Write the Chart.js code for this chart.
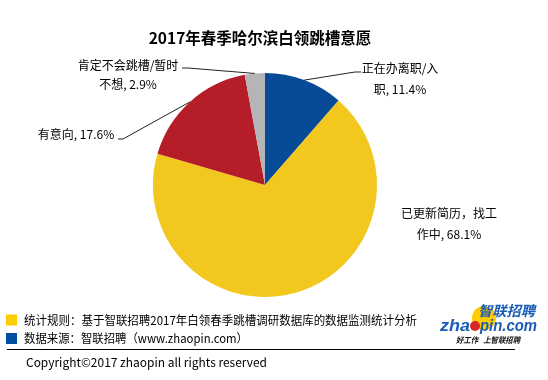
<!DOCTYPE html>
<html>
<head>
<meta charset="utf-8">
<script src="https://cdn.jsdelivr.net/npm/chart.js@4/dist/chart.umd.min.js"></script>
<style>
html,body{margin:0;padding:0;background:#fff;}
#wrap{width:548px;height:380px;position:relative;}
</style>
</head>
<body>
<div id="wrap"><canvas id="c" width="548" height="380"></canvas></div>
<script>
// ---- data ----
const chartTitle = '2017年春季哈尔滨白领跳槽意愿';
const categories = ['正在办离职/入职', '已更新简历，找工作中', '有意向', '肯定不会跳槽/暂时不想'];
const values = [11.4, 68.1, 17.6, 2.9];
const labelBreaks = [7, 8, 0, 9];
const sliceColors = ['#074A95', '#F2C81F', '#B51E28', '#B5B5B7'];
const legendTexts = ['统计规则：基于智联招聘2017年白领春季跳槽调研数据库的数据监测统计分析', '数据来源：智联招聘（www.zhaopin.com）'];
const legendColors = ['#FFCC00', '#004FA0'];
const copyrightText = 'Copyright©2017 zhaopin all rights reserved';

// ---- layout for labels (positions only) ----
const CJK = '"Microsoft YaHei","Noto Sans CJK SC","Noto Sans",sans-serif';
const labelLayout = [
  {cx: 400, ys: [68, 89], leader: [[361, 72], [355, 72]]},
  {cx: 449, ys: [213, 234], leader: null},
  {cx: 76, ys: [134], leader: [[118, 139], [123, 139]]},
  {cx: 128, ys: [65, 84], leader: [[182, 68], [188, 68]]}
];

function labelLines(i) {
  const full = categories[i] + ', ' + values[i] + '%';
  const b = labelBreaks[i];
  if (!b) return [full];
  return [full.slice(0, b), full.slice(b)];
}

function fitText(ctx, text, x, y, width) {
  const w = ctx.measureText(text).width;
  ctx.save();
  ctx.translate(x, y);
  ctx.scale(width / w, 1);
  ctx.fillText(text, 0, 0);
  ctx.restore();
}

const overlay = {
  id: 'overlay',
  afterDraw(chart) {
    const ctx = chart.ctx;
    ctx.save();
    // title
    ctx.fillStyle = '#000';
    ctx.font = 'bold 15.5px ' + CJK;
    ctx.textAlign = 'center';
    ctx.textBaseline = 'middle';
    ctx.fillText(chartTitle, 260, 38);

    // slice labels + leaders
    const meta = chart.getDatasetMeta(0);
    meta.data.forEach((arc, i) => {
      const L = labelLayout[i];
      const p = arc.getProps(['x', 'y', 'startAngle', 'endAngle', 'outerRadius'], true);
      const mid = (p.startAngle + p.endAngle) / 2;
      const ex = p.x + Math.cos(mid) * p.outerRadius;
      const ey = p.y + Math.sin(mid) * p.outerRadius;
      if (L.leader) {
        ctx.strokeStyle = '#222';
        ctx.lineWidth = 1;
        ctx.beginPath();
        ctx.moveTo(L.leader[0][0], L.leader[0][1]);
        ctx.lineTo(L.leader[1][0], L.leader[1][1]);
        ctx.lineTo(ex, ey);
        ctx.stroke();
      }
      ctx.fillStyle = '#000';
      ctx.font = '12px ' + CJK;
      ctx.textAlign = 'center';
      ctx.textBaseline = 'middle';
      labelLines(i).forEach((t, k) => ctx.fillText(t, L.cx, L.ys[k]));
    });

    // bottom legend
    ctx.textAlign = 'left';
    ctx.font = '12px ' + CJK;
    const legendWidths = [393, 224];
    legendTexts.forEach((t, k) => {
      const y = 320 + k * 18.5;
      ctx.fillStyle = legendColors[k];
      ctx.fillRect(6, y - 5.5, 11, 11);
      ctx.fillStyle = '#000';
      fitText(ctx, t, 24, y, legendWidths[k]);
    });
    ctx.strokeStyle = '#000';
    ctx.lineWidth = 1;
    ctx.beginPath();
    ctx.moveTo(7, 349.5);
    ctx.lineTo(515, 349.5);
    ctx.stroke();
    ctx.font = '12px ' + CJK;
    ctx.fillStyle = '#000';
    fitText(ctx, copyrightText, 26, 362, 241);

    // logo
    ctx.fillStyle = '#FFCC00';
    ctx.beginPath(); ctx.arc(484, 318, 12, 0, Math.PI * 2); ctx.fill();
    ctx.fillStyle = '#1B5DB6';
    ctx.font = 'italic bold 14px ' + CJK;
    fitText(ctx, '智联招聘', 478, 311, 57);
    ctx.font = 'italic bold 17px "Liberation Sans",Arial,sans-serif';
    ctx.textBaseline = 'alphabetic';
    fitText(ctx, 'zha', 440, 331, 30);
    fitText(ctx, 'pin.com', 480, 331, 57);
    ctx.fillStyle = '#D9262C';
    ctx.beginPath(); ctx.arc(475, 326, 5, 0, Math.PI * 2); ctx.fill();
    ctx.fillStyle = '#111';
    ctx.textBaseline = 'middle';
    ctx.font = 'italic bold 8px ' + CJK;
    fitText(ctx, '好工作   上智联招聘', 456, 340, 64);
    ctx.restore();
  }
};

new Chart(document.getElementById('c'), {
  type: 'pie',
  data: {
    labels: categories,
    datasets: [{
      data: values,
      backgroundColor: sliceColors,
      borderWidth: 0
    }]
  },
  options: {
    responsive: false,
    animation: false,
    rotation: 0,
    layout: {padding: {left: 153, right: 171, top: 73, bottom: 83}},
    plugins: {legend: {display: false}, title: {display: false}, tooltip: {enabled: false}}
  },
  plugins: [overlay]
});
</script>
</body>
</html>
